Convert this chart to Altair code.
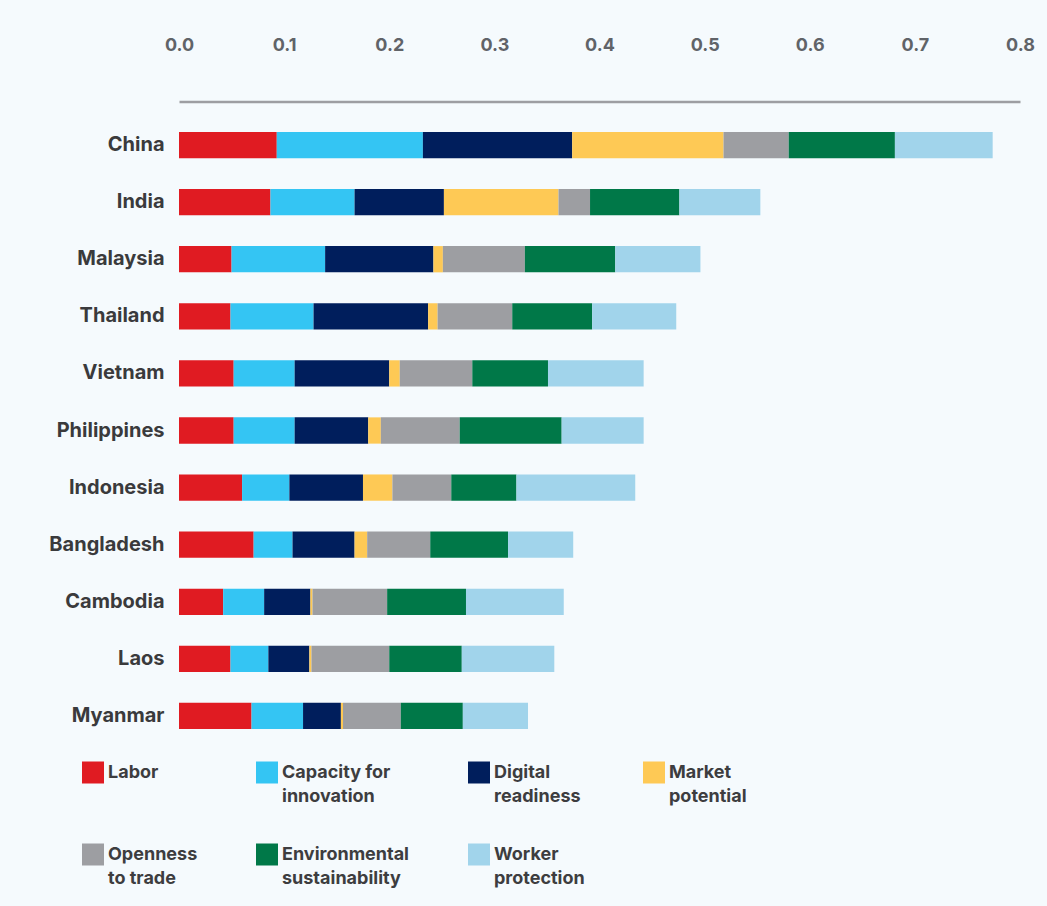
import altair as alt
import pandas as pd

countries = ["China", "India", "Malaysia", "Thailand", "Vietnam", "Philippines",
             "Indonesia", "Bangladesh", "Cambodia", "Laos", "Myanmar"]

pillars = ["Labor", "Capacity for innovation", "Digital readiness", "Market potential",
           "Openness to trade", "Environmental sustainability", "Worker protection"]

legend_lines = {
    "Labor": ["Labor", ""],
    "Capacity for innovation": ["Capacity for", "innovation"],
    "Digital readiness": ["Digital", "readiness"],
    "Market potential": ["Market", "potential"],
    "Openness to trade": ["Openness", "to trade"],
    "Environmental sustainability": ["Environmental", "sustainability"],
    "Worker protection": ["Worker", "protection"],
}

colors = ["#e01b22", "#34c5f3", "#001e5c", "#fec955", "#9d9ea2", "#007848", "#a1d4eb"]

labor      = [0.093, 0.087, 0.050, 0.049, 0.052, 0.052, 0.060, 0.071, 0.042, 0.049, 0.069]
innovation = [0.139, 0.080, 0.089, 0.079, 0.058, 0.058, 0.045, 0.037, 0.039, 0.036, 0.049]
digital    = [0.142, 0.085, 0.103, 0.109, 0.090, 0.070, 0.070, 0.059, 0.044, 0.039, 0.036]
market     = [0.144, 0.109, 0.009, 0.009, 0.010, 0.012, 0.028, 0.012, 0.002, 0.002, 0.002]
openness   = [0.062, 0.030, 0.078, 0.071, 0.069, 0.075, 0.056, 0.060, 0.071, 0.074, 0.055]
environ    = [0.101, 0.085, 0.086, 0.076, 0.072, 0.097, 0.062, 0.074, 0.075, 0.069, 0.059]
worker     = [0.093, 0.077, 0.081, 0.080, 0.091, 0.078, 0.113, 0.062, 0.093, 0.088, 0.062]

series = [labor, innovation, digital, market, openness, environ, worker]

rows = []
for p_idx, (pillar, vals) in enumerate(zip(pillars, series)):
    for country, v in zip(countries, vals):
        rows.append({"country": country, "pillar": pillar, "value": v, "order": p_idx})
df = pd.DataFrame(rows)

label_expr = " : ".join(
    f"datum.label == '{k}' ? {v!r}" for k, v in legend_lines.items()
) + " : datum.label"

FONT = "Inter"

chart = alt.Chart(df).mark_bar().encode(
    x=alt.X("value:Q", stack="zero",
            scale=alt.Scale(domain=[0, 0.8], nice=False),
            axis=alt.Axis(orient="top", values=[0, 0.1, 0.2, 0.3, 0.4, 0.5, 0.6, 0.7, 0.8],
                          format=".1f", title=None, grid=False, ticks=False, tickSize=0,
                          labelFlush=False,
                          domainColor="#9d9ea2", domainWidth=2.5, offset=15,
                          labelPadding=47, labelFont=FONT, labelFontSize=18,
                          labelFontWeight="bold", labelColor="#606368")),
    y=alt.Y("country:N", sort=countries,
            scale=alt.Scale(paddingInner=0.54, paddingOuter=0.27),
            axis=alt.Axis(title=None, domain=False, ticks=False, labelPadding=15,
                          labelFont=FONT, labelFontSize=20, labelFontWeight="bold",
                          labelColor="#3a3a3c")),
    color=alt.Color("pillar:N", sort=pillars,
                    scale=alt.Scale(domain=pillars, range=colors),
                    legend=alt.Legend(orient="none", legendX=-97, legendY=645,
                                      direction="horizontal",
                                      columns=4, columnPadding=58, rowPadding=38,
                                      title=None, symbolType="square", symbolSize=484,
                                      symbolStrokeWidth=0, symbolOpacity=1,
                                      labelFont=FONT, labelFontSize=18,
                                      labelFontWeight="bold", labelColor="#3d3d3f",
                                      labelOffset=4, labelLimit=0, labelExpr=label_expr)),
    order=alt.Order("order:Q"),
).properties(
    width=841,
    height=628,
    background="#f5fafd",
    padding={"left": 179, "top": 116.5, "right": 27, "bottom": 161.5},
    autosize=alt.AutoSizeParams(type="none"),
).configure(
    style={"guide-label": {"lineHeight": 24}},
    view=alt.ViewConfig(stroke=None),
)

chart.save("out.html", embed_options={"renderer": "svg", "actions": False})
